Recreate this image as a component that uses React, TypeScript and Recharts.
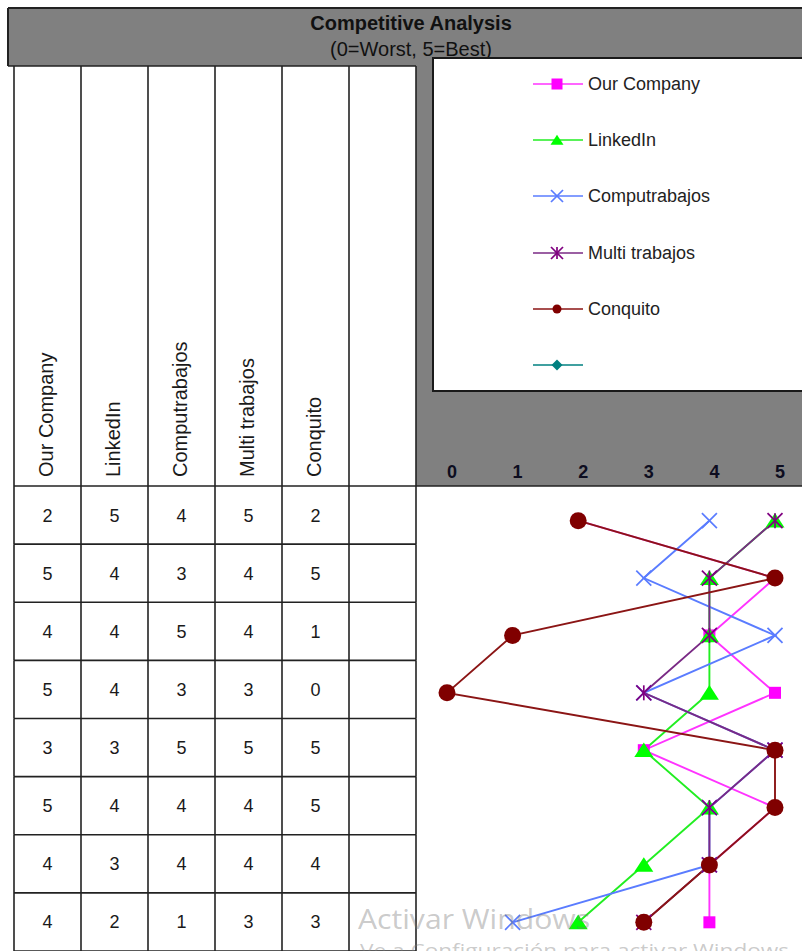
import React from 'react';
import { ComposedChart, Line, XAxis, YAxis, Legend } from 'recharts';

// ---------- data ----------
const rowIds = ['r1', 'r2', 'r3', 'r4', 'r5', 'r6', 'r7', 'r8'];
const seriesNames = ['Our Company', 'LinkedIn', 'Computrabajos', 'Multi trabajos', 'Conquito', ''];
const ourCompany = [2, 5, 4, 5, 3, 5, 4, 4];
const linkedIn = [5, 4, 4, 4, 3, 4, 3, 2];
const computrabajos = [4, 3, 5, 3, 5, 4, 4, 1];
const multiTrabajos = [5, 4, 4, 3, 5, 4, 4, 3];
const conquito = [2, 5, 1, 0, 5, 5, 4, 3];
const blankSeries: (number | null)[] = [null, null, null, null, null, null, null, null];
const xTicks = [0, 1, 2, 3, 4, 5];
const titleText = 'Competitive Analysis';
const subtitleText = '(0=Worst, 5=Best)';
const watermark1 = 'Activar Windows';
const watermark2 = 'Ve a Configuración para activar Windows.';

const seriesValues = [ourCompany, linkedIn, computrabajos, multiTrabajos, conquito, blankSeries];
const seriesKeys = ['s0', 's1', 's2', 's3', 's4', 's5'];
const data = rowIds.map((id, i) => {
  const o: any = { row: id };
  seriesKeys.forEach((k, j) => (o[k] = seriesValues[j][i]));
  return o;
});

// ---------- styles ----------
const FONT = '"Liberation Sans", Arial, sans-serif';
const GRID = '#222';
const STYLES = [
  { color: '#FF00FF', line: '#FF33FF', shape: 'square', size: 12, lsize: 11 },
  { color: '#00FF00', line: '#22EE22', shape: 'triangle', size: 19, lsize: 13 },
  { color: '#5A7CFF', line: '#5A7CFF', shape: 'x', size: 15, lsize: 12 },
  { color: '#800080', line: '#7A2A85', shape: 'star', size: 15, lsize: 12 },
  { color: '#800000', line: '#8B1515', shape: 'circle', size: 17, lsize: 9 },
  { color: '#008080', line: '#008080', shape: 'diamond', size: 10, lsize: 11 },
];
const COLS = [14, 81, 148, 215, 282, 349, 416];
const ROW_H = (951 - 486) / 8;
const LINE_W = 1.9;

function Marker({ shape, color, cx, cy, size }: any) {
  const h = size / 2;
  switch (shape) {
    case 'square':
      return <rect x={cx - h} y={cy - h} width={size} height={size} fill={color} />;
    case 'triangle':
      return (
        <polygon
          points={`${cx},${cy - h * 0.82} ${cx + h},${cy + h * 0.72} ${cx - h},${cy + h * 0.72}`}
          fill={color}
        />
      );
    case 'x':
      return (
        <g stroke={color} strokeWidth={1.7}>
          <line x1={cx - h} y1={cy - h} x2={cx + h} y2={cy + h} />
          <line x1={cx - h} y1={cy + h} x2={cx + h} y2={cy - h} />
        </g>
      );
    case 'star':
      return (
        <g stroke={color} strokeWidth={1.7}>
          <line x1={cx - h} y1={cy - h} x2={cx + h} y2={cy + h} />
          <line x1={cx - h} y1={cy + h} x2={cx + h} y2={cy - h} />
          <line x1={cx} y1={cy - h} x2={cx} y2={cy + h} />
        </g>
      );
    case 'circle':
      return <circle cx={cx} cy={cy} r={h} fill={color} />;
    case 'diamond':
      return (
        <polygon points={`${cx},${cy - h} ${cx + h},${cy} ${cx},${cy + h} ${cx - h},${cy}`} fill={color} />
      );
    default:
      return null;
  }
}

const makeDot = (j: number) => (props: any) => {
  const { cx, cy, index, value } = props;
  if (cx == null || cy == null || value == null || Number.isNaN(cx) || Number.isNaN(cy)) {
    return <g key={`d${j}-${index}`} />;
  }
  const s = STYLES[j];
  return (
    <g key={`d${j}-${index}`}>
      <Marker shape={s.shape} color={s.color} cx={cx} cy={cy} size={s.size} />
    </g>
  );
};

const XTick = (p: any) => (
  <text
    x={p.x + 5}
    y={478}
    textAnchor="middle"
    fontSize={18}
    fontWeight="bold"
    fill="#0d0d20"
    fontFamily={FONT}
  >
    {p.payload.value}
  </text>
);

const TableTick = (p: any) => {
  const { y, payload } = p;
  const idx = rowIds.indexOf(payload.value);
  const top = y - ROW_H / 2;
  const bottom = y + ROW_H / 2;
  return (
    <g>
      <line x1={COLS[0]} x2={COLS[6]} y1={bottom} y2={bottom} stroke={GRID} strokeWidth={1.6} />
      {COLS.map((x) => (
        <line key={x} x1={x} x2={x} y1={top} y2={bottom} stroke={GRID} strokeWidth={1.6} />
      ))}
      {seriesValues.map((vals, j) =>
        vals[idx] == null ? null : (
          <text
            key={j}
            x={(COLS[j] + COLS[j + 1]) / 2}
            y={y + 6.5}
            textAnchor="middle"
            fontSize={18}
            fill="#1a1a1a"
            fontFamily={FONT}
          >
            {vals[idx]}
          </text>
        )
      )}
    </g>
  );
};

const LegendBox = () => (
  <div
    style={{
      position: 'relative',
      width: '100%',
      height: '100%',
      boxSizing: 'border-box',
      border: '2px solid #1a1a1a',
      background: '#fff',
      fontFamily: FONT,
    }}
  >
    {seriesNames.map((name, i) => {
      const s = STYLES[i];
      const top = 27 + i * 56.2 - 11 - 2;
      return (
        <div key={i} style={{ position: 'absolute', top, left: 0, height: 22, width: '100%' }}>
          <svg width={50} height={22} style={{ position: 'absolute', left: 99, top: 0 }}>
            <line x1={0} x2={50} y1={11} y2={11} stroke={s.line} strokeWidth={1.7} />
            <Marker shape={s.shape} color={s.color} cx={24} cy={11} size={s.lsize} />
          </svg>
          <span
            style={{
              position: 'absolute',
              left: 154,
              top: 0,
              lineHeight: '22px',
              fontSize: 18,
              color: '#222',
              whiteSpace: 'nowrap',
            }}
          >
            {name}
          </span>
        </div>
      );
    })}
  </div>
);

export default function App() {
  return (
    <div
      style={{
        position: 'fixed',
        left: 0,
        top: 0,
        width: 802,
        height: 951,
        overflow: 'hidden',
        background: '#fff',
      }}
    >
      {/* background decorations: banner, header row */}
      <svg width={802} height={951} style={{ position: 'absolute', left: 0, top: 0 }}>
        <rect x={8} y={8} width={794} height={58} fill="#808080" />
        <rect x={416} y={66} width={386} height={420} fill="#808080" />
        <line x1={8} x2={802} y1={8} y2={8} stroke={GRID} strokeWidth={2} />
        <line x1={8} x2={8} y1={8} y2={66} stroke={GRID} strokeWidth={2} />
        <line x1={8} x2={416} y1={66} y2={66} stroke={GRID} strokeWidth={1.6} />
        <line x1={14} x2={416} y1={486} y2={486} stroke={GRID} strokeWidth={1.6} />
        {COLS.map((x) => (
          <line key={x} x1={x} x2={x} y1={66} y2={486} stroke={GRID} strokeWidth={1.6} />
        ))}
        <text x={411} y={30} textAnchor="middle" fontSize={20} fontWeight="bold" fill="#111" fontFamily={FONT}>
          {titleText}
        </text>
        <text x={411} y={56} textAnchor="middle" fontSize={20} fill="#111" fontFamily={FONT}>
          {subtitleText}
        </text>
        {seriesNames.map((name, j) => {
          const bx = (COLS[j] + COLS[j + 1]) / 2 + 5;
          return name ? (
            <text
              key={j}
              x={bx}
              y={477}
              transform={`rotate(-90 ${bx} 477)`}
              fontSize={20}
              fill="#1a1a1a"
              fontFamily={FONT}
            >
              {name}
            </text>
          ) : null;
        })}
      </svg>

      <div style={{ position: 'absolute', left: 0, top: 0 }}>
        <ComposedChart
          width={802}
          height={951}
          layout="vertical"
          data={data}
          margin={{ top: 0, right: 0, bottom: 0, left: 0 }}
        >
          <XAxis
            type="number"
            orientation="top"
            domain={[0, 5]}
            ticks={xTicks}
            interval={0}
            height={486}
            padding={{ left: 31, right: 27 }}
            axisLine={{ stroke: GRID, strokeWidth: 1.6 }}
            tickLine={false}
            tick={XTick}
          />
          <YAxis
            yAxisId="table"
            type="category"
            scale="band"
            dataKey="row"
            width={416}
            interval={0}
            axisLine={false}
            tickLine={false}
            tick={TableTick}
          />
          <YAxis
            yAxisId="pts"
            type="category"
            scale="band"
            dataKey="row"
            hide
            width={0}
            padding={{ top: 6, bottom: 0 }}
          />
          {seriesKeys.slice(0, 5).map((k, j) => (
            <Line
              key={k}
              yAxisId="pts"
              type="linear"
              dataKey={k}
              name={seriesNames[j]}
              stroke={STYLES[j].line}
              strokeWidth={LINE_W}
              dot={makeDot(j)}
              activeDot={false}
              isAnimationActive={false}
            />
          ))}
          <Line
            yAxisId="table"
            type="linear"
            dataKey="s5"
            name=" "
            stroke={STYLES[5].line}
            strokeWidth={LINE_W}
            dot={false}
            activeDot={false}
            isAnimationActive={false}
          />
          <Legend
            layout="vertical"
            align="center"
            verticalAlign="middle"
            width={380}
            height={335}
            wrapperStyle={{ left: 432, top: 57, width: 380, height: 335 }}
            content={() => <LegendBox />}
          />
        </ComposedChart>
      </div>

      {/* OS watermark */}
      <svg
        width={802}
        height={951}
        style={{ position: 'absolute', left: 0, top: 0, pointerEvents: 'none' }}
      >
        <text
          x={358}
          y={929}
          fontSize={28}
          textLength={232}
          lengthAdjust="spacingAndGlyphs"
          fill="rgba(120,120,120,0.4)"
          fontFamily='"Open Sans", "Noto Sans", sans-serif'
        >
          {watermark1}
        </text>
        <text
          x={360}
          y={957}
          fontSize={18}
          textLength={435}
          lengthAdjust="spacingAndGlyphs"
          fill="rgba(120,120,120,0.4)"
          fontFamily='"Open Sans", "Noto Sans", sans-serif'
        >
          {watermark2}
        </text>
      </svg>
    </div>
  );
}
